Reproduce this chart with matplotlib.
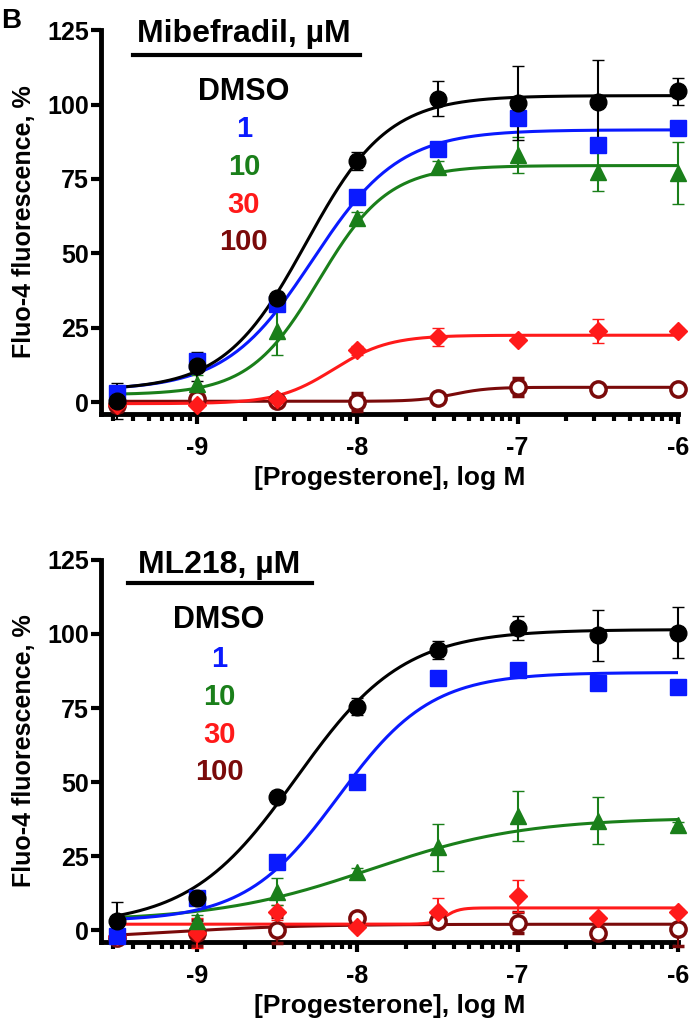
import numpy as np
import matplotlib
matplotlib.use('Agg')
import matplotlib.pyplot as plt
from matplotlib.ticker import FixedLocator

plt.rcParams['font.family'] = ['Liberation Sans', 'DejaVu Sans']
plt.rcParams['font.weight'] = 'bold'
plt.rcParams['axes.unicode_minus'] = False

# log [progesterone], M
log_dose = [-9.5, -9.0, -8.5, -8.0, -7.5, -7.0, -6.5, -6.0]

groups = ['DMSO', '1', '10', '30', '100']
colors = ['black', '#0a1aff', '#1a7f1a', '#ff1a1a', '#7a0a0a']
markers = ['o', 's', '^', 'D', 'o']
msizes = [12, 11, 12, 9, 11]

# panel 1: Mibefradil
mib_mean = {
    'DMSO': [0.5, 12, 35, 81, 102, 100.5, 101, 104.5],
    '1':    [3, 14, 33, 69, 85, 95.5, 86.5, 92],
    '10':   [2, 6, 24, 62, 79, 83, 77.5, 77],
    '30':   [-1, -1, 1, 17.5, 22, 21, 24, 24],
    '100':  [-1, 1, 0.5, 0, 1.5, 5, 4.5, 4.5],
}
mib_err = {
    'DMSO': [6, 5, 2, 3, 6, 12.5, 14, 4.5],
    '1':    [2, 2, 2, 2, 1.5, 2, 2, 2],
    '10':   [2, 3, 8, 2, 2, 6, 6.5, 10.5],
    '30':   [1, 1, 1, 1.5, 3, 1, 4, 1],
    '100':  [2, 1.5, 1, 3, 1, 3, 1, 1],
}
# fit: bottom, top, logEC50, hill
mib_fit = {
    'DMSO': [4, 103, -8.32, 1.7],
    '1':    [4, 91.5, -8.28, 1.6],
    '10':   [2.5, 79.5, -8.24, 2.0],
    '30':   [-0.5, 22.5, -8.15, 2.5],
    '100':  [0.3, 5, -7.4, 4.0],
}

# panel 2: ML218
ml_mean = {
    'DMSO': [3, 11, 45, 75.5, 94.5, 102, 99.5, 100.5],
    '1':    [-2, 11, 23, 50, 85, 88, 83.5, 82],
    '10':   [2, 3, 13, 19.5, 28, 38.5, 37, 35.5],
    '30':   [-2, -1, 6, 1, 6, 11.5, 4, 6],
    '100':  [-2.5, -1, 0, 4, 3, 2.5, -1, 0.5],
}
ml_err = {
    'DMSO': [6.5, 2, 2, 3, 3, 4, 8.5, 8.5],
    '1':    [1.5, 1.5, 1.5, 1.5, 1.5, 1.5, 1.5, 1.5],
    '10':   [1, 2, 4.5, 1.5, 8, 8.5, 8, 1],
    '30':   [1, 5, 2.5, 1, 5, 5.5, 1, 1],
    '100':  [2, 4.5, 4.5, 1, 1, 3.5, 1, 6],
}
ml_fit = {
    'DMSO': [1.5, 101.5, -8.38, 1.3],
    '1':    [3, 87, -8.12, 1.5],
    '10':   [3, 38, -7.92, 0.9],
    '30':   [2, 7.5, -7.45, 10.0],
    '100':  [-3.5, 2, -9.2, 1.0],
}

panels = [
    ('Mibefradil, µM', mib_mean, mib_err, mib_fit),
    ('ML218, µM', ml_mean, ml_err, ml_fit),
]
axes_pos = [[0.147, 0.596, 0.8355, 0.3746], [0.147, 0.081, 0.8355, 0.3727]]
# legend layout (axes fraction)
leg_x = [0.247, 0.204]
title_y = [0.969, 0.966]
line_y = [0.935, 0.940]
line_x = [(0.055, 0.449), (0.046, 0.365)]
leg_y = [[0.818, 0.721, 0.622, 0.523, 0.427], [0.822, 0.720, 0.620, 0.521, 0.424]]

fig = plt.figure(figsize=(6.9, 10.25), dpi=100)

xs = np.linspace(-9.5, -6.0, 300)
minor = [np.log10(k) + d for d in range(-10, -6) for k in range(2, 10)]
minor = [m for m in minor if -9.6 <= m <= -6.0]

for p, (title, mean, err, fit) in enumerate(panels):
    ax = fig.add_axes(axes_pos[p])
    for g, c, m, ms in reversed(list(zip(groups, colors, markers, msizes))):
        b, t, ec, h = fit[g]
        ax.plot(xs, b + (t - b) / (1 + 10 ** ((ec - xs) * h)), color=c, lw=2.2, zorder=2)
        open_marker = g == '100'
        ax.errorbar(log_dose, mean[g], yerr=err[g], fmt=m, color=c, ms=ms,
                    mfc='white' if open_marker else c, mec=c, mew=2.5 if open_marker else 1,
                    ecolor=c, elinewidth=1.5, capsize=4.5, capthick=1.5,
                    clip_on=False, zorder=3)
    ax.set_xlim(-9.597, -6.0)
    ax.set_ylim(-4, 125)
    ax.set_yticks([0, 25, 50, 75, 100, 125])
    ax.set_xticks([-9, -8, -7, -6])
    ax.xaxis.set_minor_locator(FixedLocator(minor))
    for s in ['top', 'right']:
        ax.spines[s].set_visible(False)
    for s in ['left', 'bottom']:
        ax.spines[s].set_linewidth(3.5)
    ax.tick_params(axis='both', which='major', width=3, length=7, labelsize=18)
    ax.tick_params(axis='x', which='minor', width=3, length=5)
    ax.tick_params(axis='x', pad=9)
    ax.tick_params(axis='y', pad=2)
    for lab in ax.get_xticklabels() + ax.get_yticklabels():
        lab.set_fontweight('bold')
    ax.set_xlabel('[Progesterone], log M', fontsize=19, fontweight='bold', labelpad=4)
    ax.set_ylabel('Fluo-4 fluorescence, %', fontsize=18, fontweight='bold', labelpad=8)

    # legend block
    ax.text(leg_x[p], title_y[p], title, transform=ax.transAxes, ha='center',
            va='baseline', fontsize=23, fontweight='bold')
    ax.plot(line_x[p], [line_y[p]] * 2, transform=ax.transAxes, color='black',
            lw=3, clip_on=False)
    for g, c, y in zip(groups, colors, leg_y[p]):
        ax.text(leg_x[p], y, g, transform=ax.transAxes, ha='center', va='baseline',
                fontsize=22 if g == 'DMSO' else 21, fontweight='bold', color=c)

fig.text(0.002, 0.992, 'B', fontsize=20, fontweight='bold', va='top', ha='left')

fig.savefig('out.png', dpi=100)
